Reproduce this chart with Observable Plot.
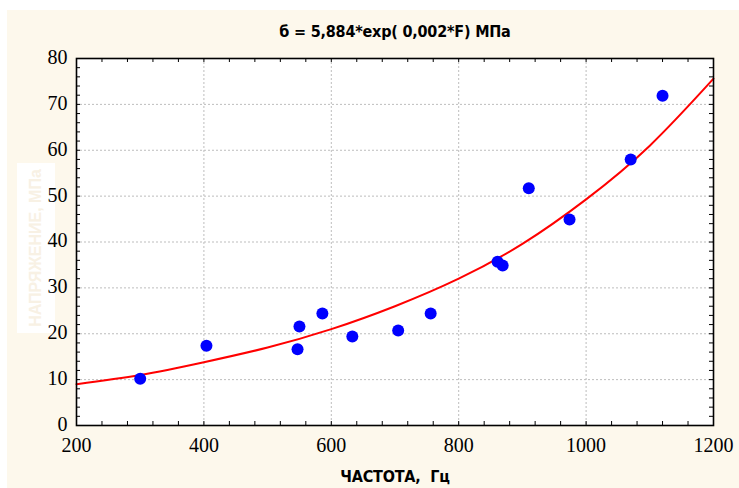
<!DOCTYPE html>
<html><head><meta charset="utf-8">
<script src="https://cdn.jsdelivr.net/npm/d3@7"></script>
<script src="https://cdn.jsdelivr.net/npm/@observablehq/plot@0.6"></script>
<style>
body{margin:0;background:#fff;width:739px;height:488px;position:relative;overflow:hidden}
#bg{position:absolute;left:7px;top:10px;width:732px;height:478px;background:#fdf8ec}
#chart{position:absolute;left:0;top:0}
.lab{position:absolute;left:0;width:790px;text-align:center;font-family:"DejaVu Sans Condensed","Liberation Sans",sans-serif;font-weight:bold;font-size:16px;line-height:20px;color:#000;white-space:pre;letter-spacing:-0.2px}
#title{top:22px}
#xlab{top:467px}
#ybox{position:absolute;left:17px;top:163px;width:38px;height:170px;background:#fff}
#ylab{position:absolute;left:36px;top:248px;transform:translate(-50%,-50%) rotate(-90deg);font-family:"Liberation Sans","DejaVu Sans",sans-serif;font-weight:bold;font-size:16px;color:#f8f1e4;white-space:nowrap}
</style></head>
<body>
<div id="bg"></div>
<div id="ybox"></div>
<div id="ylab">НАПРЯЖЕНИЕ, МПа</div>
<div id="chart"></div>
<div class="lab" id="title">б = 5,884*exp( 0,002*F) МПа</div>
<div class="lab" id="xlab">ЧАСТОТА,  Гц</div>
<script>
// Measured points
const freq   = [300, 404, 550, 547, 586, 633, 705, 756, 861, 869, 910, 974, 1070, 1120];
const stress = [10.2, 17.4, 21.6, 16.6, 24.4, 19.4, 20.7, 24.4, 35.7, 34.9, 51.7, 44.9, 58.0, 71.9];
// Fitted curve
const curveF = [200, 300, 400, 500, 600, 700, 800, 900, 1000, 1100, 1200];
const curveS = [9.0, 11.0, 13.8, 17.0, 21.0, 26.0, 32.0, 39.6, 49.3, 61.0, 75.6];
// Ticks
const xTicks = [200, 400, 600, 800, 1000, 1200];
const yTicks = [0, 10, 20, 30, 40, 50, 60, 70, 80];
const xMinor = d3.range(200, 1201, 40);
const yMinor = d3.range(0, 81, 2);

const points = freq.map((f, i) => ({f, s: stress[i]}));
const curve = curveF.map((f, i) => ({f, s: curveS[i]}));

const W = 739, H = 488, mt = 58, mb = 63, ml = 76, mr = 26;
const fh = H - mt - mb, fw = W - ml - mr, tk = 4;
const grid = {stroke: "#bdbdbd", strokeDasharray: "2,2", strokeWidth: 1};
const serif = "Liberation Serif";
const lbl = {fontFamily: serif, fontSize: 20, fill: "#000", text: d => String(d)};

const plot = Plot.plot({
  width: W, height: H,
  marginTop: mt, marginBottom: mb, marginLeft: ml, marginRight: mr,
  style: {background: "transparent", color: "#000"},
  x: {domain: [200, 1200], axis: null},
  y: {domain: [0, 80], axis: null},
  marks: [
    Plot.frame({fill: "white"}),
    Plot.ruleX(xTicks.filter(d => d > 200 && d < 1200), {x: d => d, ...grid}),
    Plot.ruleY(yTicks.filter(d => d > 0 && d < 80), {y: d => d, ...grid}),
    Plot.tickX(xMinor, {x: d => d, insetTop: fh - tk, stroke: "#000"}),
    Plot.tickX(xMinor, {x: d => d, insetBottom: fh - tk, stroke: "#000"}),
    Plot.tickY(yMinor, {y: d => d, insetRight: fw - tk, stroke: "#000"}),
    Plot.tickY(yMinor, {y: d => d, insetLeft: fw - tk, stroke: "#000"}),
    Plot.text(xTicks, {x: d => d, frameAnchor: "bottom", lineAnchor: "top", dy: 12, ...lbl}),
    Plot.text(yTicks, {y: d => d, frameAnchor: "left", textAnchor: "end", dx: -9, dy: -1, ...lbl}),
    Plot.line(curve, {x: "f", y: "s", stroke: "#ff0000", strokeWidth: 2, curve: "natural"}),
    Plot.dot(points, {x: "f", y: "s", r: 6, fill: "#0000ff", stroke: "none"}),
    Plot.frame({stroke: "#000", strokeWidth: 1.6})
  ]
});
document.getElementById("chart").appendChild(plot);
</script>
</body></html>
